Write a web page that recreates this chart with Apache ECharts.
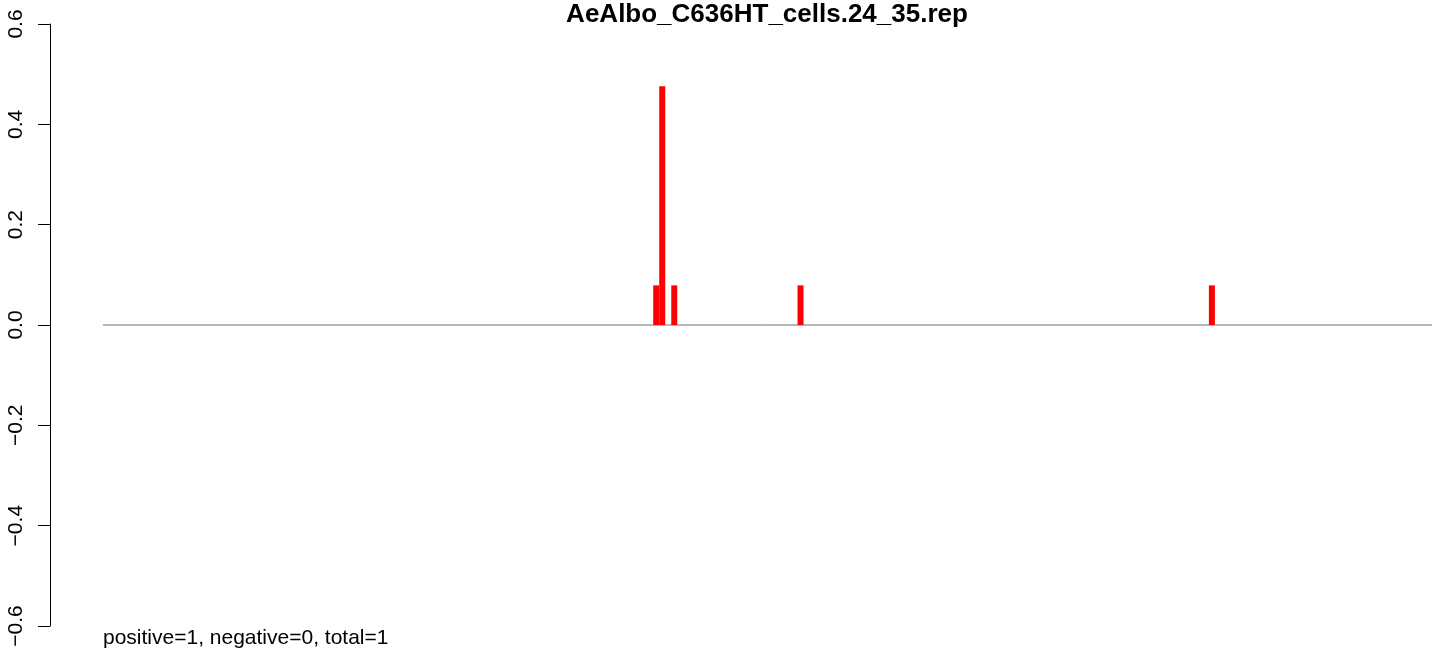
<!DOCTYPE html>
<html>
<head>
<meta charset="utf-8">
<script src="https://cdn.jsdelivr.net/npm/echarts@6/dist/echarts.min.js"></script>
<style>html,body{margin:0;padding:0;background:#fff;}#c{width:1444px;height:655px;}</style>
</head>
<body>
<div id="c"></div>
<script>
// data
var titleText = 'AeAlbo_C636HT_cells.24_35.rep';
var footText = 'positive=1, negative=0, total=1';
var positions = [93, 94, 96, 117, 185.4];
var values = [0.079, 0.476, 0.079, 0.079, 0.079];
var baselineRange = [1, 222];
var yTicks = [-0.6, -0.4, -0.2, 0.0, 0.2, 0.4, 0.6];

var chart = echarts.init(document.getElementById('c'));
var barData = positions.map(function (p, i) { return [p, values[i]]; });
var baseData = baselineRange.map(function (p) { return [p, 0]; });
var font = 'Liberation Sans, Arial, sans-serif';

chart.setOption({
  animation: false,
  backgroundColor: '#ffffff',
  title: [
    { text: titleText, left: 767, top: 2, textAlign: 'center', padding: 0,
      textStyle: { fontFamily: font, fontSize: 26, fontWeight: 'bold', color: '#000' } },
    { text: footText, left: 103, top: 628, padding: 0,
      textStyle: { fontFamily: font, fontSize: 21, fontWeight: 'normal', color: '#000' } }
  ],
  grid: { left: 50, right: 12, top: 24, bottom: 29, containLabel: false },
  xAxis: {
    type: 'value', min: -7.8, max: 222,
    show: false
  },
  yAxis: {
    type: 'value', min: yTicks[0], max: yTicks[yTicks.length - 1], interval: 0.2,
    axisLine: { show: true, onZero: false, lineStyle: { color: '#000', width: 1 } },
    axisTick: { show: true, length: 12, lineStyle: { color: '#000' } },
    splitLine: { show: false },
    axisLabel: {
      rotate: 90, margin: 23, fontFamily: font, fontSize: 21, color: '#000',
      formatter: function (v) {
        var s = Math.abs(v) < 1e-9 ? '0.0' : v.toFixed(1);
        return s.replace('-', '\u2212');
      }
    }
  },
  series: [
    { type: 'line', data: baseData, symbol: 'none', silent: true,
      lineStyle: { color: '#6e6e6e', width: 1 }, z: 1 },
    { type: 'bar', data: barData, barWidth: 6, itemStyle: { color: '#ff0000' }, z: 2 }
  ]
});
</script>
</body>
</html>
